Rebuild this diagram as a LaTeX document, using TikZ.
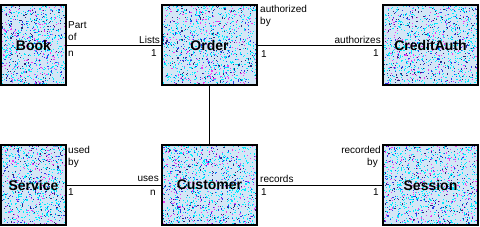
\documentclass[tikz,border=0pt]{standalone}
\usepackage{fontspec}
\setmainfont{Liberation Sans}
\usetikzlibrary{backgrounds}
\definecolor{boxbase}{RGB}{212,230,246}
\definecolor{dotcyan}{RGB}{0,235,255}
\definecolor{dotmag}{RGB}{240,60,240}
\definecolor{dotblue}{RGB}{40,60,230}
\definecolor{dotnavy}{RGB}{40,40,120}
\newcommand\boxspeckle[5]{% x1 y1 x2 y2 count
  \fill[boxbase] (#1,#2) rectangle (#3,#4);
  \foreach \i in {1,...,#5}{
    \pgfmathsetmacro\px{#1+rnd*(#3-#1-1.1)}
    \pgfmathsetmacro\py{#2+rnd*(#4-#2-1.1)}
    \pgfmathtruncatemacro\cidx{int(rnd*6)}
    \ifcase\cidx \def\cc{dotcyan}\or\def\cc{dotcyan}\or\def\cc{dotmag}\or\def\cc{dotblue}\or\def\cc{dotcyan}\else\def\cc{dotnavy}\fi
    \fill[\cc] (\px,\py) rectangle ++(1.1,1.1);
  }}
\begin{document}
\begin{tikzpicture}[x=1pt,y=-1pt,
  entity/.style={draw=black,line width=1.3pt,minimum width=#1,minimum height=80pt,inner sep=0pt,font=\fontsize{14}{16}\selectfont\bfseries},
  entity/.default=95pt,
  lbl/.style={inner sep=0pt,font=\fontsize{10}{12}\selectfont},
  link/.style={line width=0.9pt,black}]
\useasboundingbox (0,0) rectangle (480,226);
\node[entity=65pt] (book) at (33.5,45) {Book};
\node[entity] (order) at (209.5,45) {Order};
\node[entity] (credit) at (430.5,45) {CreditAuth};
\node[entity=65pt] (service) at (33.5,185) {Service};
\node[entity] (customer) at (209.5,185) {Customer};
\node[entity] (session) at (430.5,185) {Session};
\begin{pgfonlayer}{background}
\fill[white] (0,0) rectangle (480,226);
\pgfmathsetseed{7}
\boxspeckle{1}{5}{66}{85}{850}
\boxspeckle{162}{5}{257}{85}{1200}
\boxspeckle{383}{5}{478}{85}{1200}
\boxspeckle{1}{145}{66}{225}{850}
\boxspeckle{162}{145}{257}{225}{1200}
\boxspeckle{383}{145}{478}{225}{1200}
\end{pgfonlayer}
\draw[link] (book) -- (order);
\draw[link] (order) -- (credit);
\draw[link] (order) -- (customer);
\draw[link] (service) -- (customer);
\draw[link] (customer) -- (session);
% top row labels
\node[lbl,anchor=base west] (l1) at (68,28) {Part};
\node[lbl,anchor=base west] (l2) at (68,40) {of};
\node[lbl,anchor=base west] (l3) at (68,56) {n};
\node[lbl,anchor=base east] (l4) at (160,43) {Lists};
\node[lbl,anchor=base east] (l5) at (157,56) {1};
\node[lbl,anchor=base west] (l6) at (260,12) {authorized};
\node[lbl,anchor=base west] (l7) at (260,24) {by};
\node[lbl,anchor=base west] (l8) at (261,57) {1};
\node[lbl,anchor=base east] (l9) at (381,43) {authorizes};
\node[lbl,anchor=base east] (l10) at (379,56) {1};
% bottom row labels
\node[lbl,anchor=base west] (b1) at (68,153) {used};
\node[lbl,anchor=base west] (b2) at (68,165) {by};
\node[lbl,anchor=base west] (b3) at (68,195) {1};
\node[lbl,anchor=base east] (b4) at (159,181) {uses};
\node[lbl,anchor=base east] (b5) at (156,195) {n};
\node[lbl,anchor=base west] (b6) at (260,182) {records};
\node[lbl,anchor=base west] (b7) at (261,195) {1};
\node[lbl,anchor=base east] (b8) at (381,153) {recorded};
\node[lbl,anchor=base east] (b9) at (378,165) {by};
\node[lbl,anchor=base east] (b10) at (379,195) {1};
\end{tikzpicture}
\end{document}
